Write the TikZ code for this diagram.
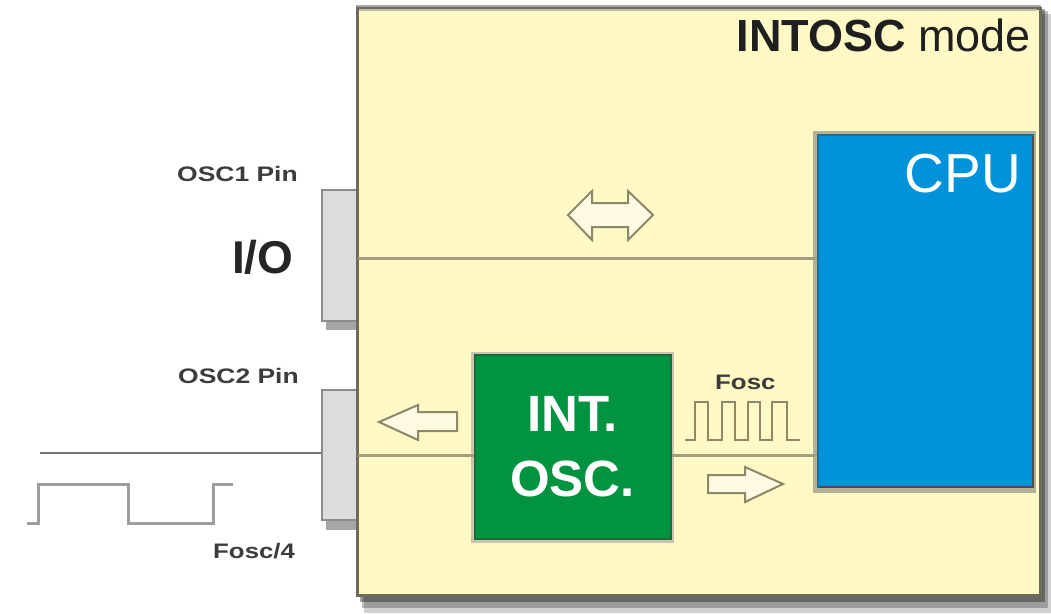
\documentclass[tikz,border=0pt]{standalone}
\usepackage{graphicx}
\usepackage{fontspec}
\setmainfont{Liberation Sans}
\definecolor{ybg}{HTML}{FFF9C6}
\definecolor{yborder}{HTML}{6F6A5C}
\definecolor{pinfill}{HTML}{DCDCDC}
\definecolor{pinborder}{HTML}{8C8C8C}
\definecolor{oscgreen}{HTML}{009440}
\definecolor{oscborder}{HTML}{1E6B3A}
\definecolor{cpublue}{HTML}{0092DA}
\definecolor{cpuborder}{HTML}{1F6E95}
\definecolor{olive}{HTML}{A39D7C}
\definecolor{arrowline}{HTML}{8E8868}
\definecolor{arrowfill}{HTML}{FFFBE2}
\definecolor{txtgray}{HTML}{3C3C3C}
\tikzset{
  pinbox/.style={draw=pinborder, fill=pinfill, line width=2.5pt, minimum width=38pt, inner sep=0pt},
  mainbox/.style={draw=yborder, fill=ybg, line width=3pt, inner sep=0pt},
  oscbox/.style={draw=oscborder, fill=oscgreen, line width=2pt, inner sep=0pt},
  cpubox/.style={draw=cpuborder, fill=cpublue, line width=2pt, inner sep=0pt},
  inl/.style={draw=olive, line width=3pt},
  outl/.style={draw=black!55, line width=2.5pt},
  wave/.style={draw=black!38, line width=3pt, line join=miter},
  fastwave/.style={draw=arrowline, line width=2pt},
  hollow/.style={draw=arrowline, fill=arrowfill, line width=2pt, line join=miter},
  smalllabel/.style={inner sep=0pt, text=txtgray, font=\fontsize{21}{25}\selectfont\bfseries},
}
\begin{document}
\begin{tikzpicture}[x=1pt,y=-1pt]
\useasboundingbox (0,0) rectangle (1051,613);
% pin shadows
\fill[black,opacity=0.35] (326,196) rectangle (360,330);
\fill[black,opacity=0.35] (326,396) rectangle (360,530);
% pins
\node[pinbox, minimum height=131pt] (pin1) at (341,255.5) {};
\node[pinbox, minimum height=130pt] (pin2) at (341,455) {};
% main box shadow
\fill[black,opacity=0.18] (364,14) rectangle (1051,613);
\fill[black,opacity=0.25] (362,11) rectangle (1048,608);
\fill[black,opacity=0.35] (360,9) rectangle (1045,602);
% main box
\node[mainbox, minimum width=683pt, minimum height=587pt] (main) at (698.5,301.5) {};
\draw[draw=black!35, line width=1.5pt] (356,6) -- (1041,6);
\draw[draw=olive!70, line width=2pt] (359,10) -- (1037,10);
% title
\node[anchor=base east, inner sep=0pt, text=black!88, font=\fontsize{45}{50}\selectfont] (title) at (1031,51) {\textbf{INTOSC} mode};
% CPU
\fill[olive!80] (813,131) rectangle (1036,493);
\node[cpubox, minimum width=215pt, minimum height=352pt] (cpu) at (925.5,311) {};
\draw[draw=black!70, line width=2pt] (1033,136) -- (1033,487) -- (819,487);
\node[anchor=base east, inner sep=0pt, text=white, font=\fontsize{55}{60}\selectfont] (cputxt) at (1021,192) {CPU};
% INT OSC
\fill[olive!60] (471,352) rectangle (674,543);
\node[oscbox, minimum width=196pt, minimum height=184pt, align=center, text=white,
      font=\fontsize{51}{65}\selectfont\bfseries] (intosc) at (572.5,447) {INT.\\OSC.};
% lines
\coordinate (ioL) at (358,258);
\draw[inl] (ioL) -- (ioL -| cpu.west);
\coordinate (oscL) at (358,455);
\draw[inl] (oscL) -- (oscL -| intosc.west);
\draw[inl] (oscL -| intosc.east) -- (oscL -| cpu.west);
\coordinate (extL) at (40,453);
\draw[outl] (extL) -- (extL -| pin2.west);
% labels
\node[smalllabel, anchor=base west] (osc1lbl) at (177,181) {\scalebox{1.26}[1]{OSC1 Pin}};
\node[smalllabel, anchor=base west] (osc2lbl) at (178,383) {\scalebox{1.26}[1]{OSC2 Pin}};
\node[anchor=base west, inner sep=0pt, text=black!85, font=\fontsize{46}{50}\selectfont\bfseries] (iolbl) at (232,273) {I/O};
\node[smalllabel, anchor=base west] (fosc4) at (213,558) {\scalebox{1.23}[1]{Fosc/4}};
\node[smalllabel, anchor=base west] (fosc) at (715,389) {\scalebox{1.23}[1]{Fosc}};
% waveforms
\draw[wave] (27,523) -- (38,523) -- (38,484) -- (128,484) -- (128,523) -- (213,523) -- (213,484) -- (233,484);
\draw[fastwave] (685,440) -- (695,440) -- (695,402) -- (708,402) -- (708,440) -- (722,440) -- (722,402) -- (735,402) -- (735,440) -- (748,440) -- (748,402) -- (760,402) -- (760,440) -- (772,440) -- (772,402) -- (787,402) -- (787,440) -- (800,440);
% hollow arrows
\draw[hollow] (379,422) -- (418,405) -- (418,412) -- (457,412) -- (457,431) -- (418,431) -- (418,440) -- cycle;
\draw[hollow] (783,484) -- (745,467) -- (745,475) -- (708,475) -- (708,493) -- (745,493) -- (745,502) -- cycle;
\draw[hollow] (568,215) -- (592,191) -- (592,203) -- (628,203) -- (628,191) -- (653,215) -- (628,240) -- (628,227) -- (592,227) -- (592,240) -- cycle;
\end{tikzpicture}
\end{document}
